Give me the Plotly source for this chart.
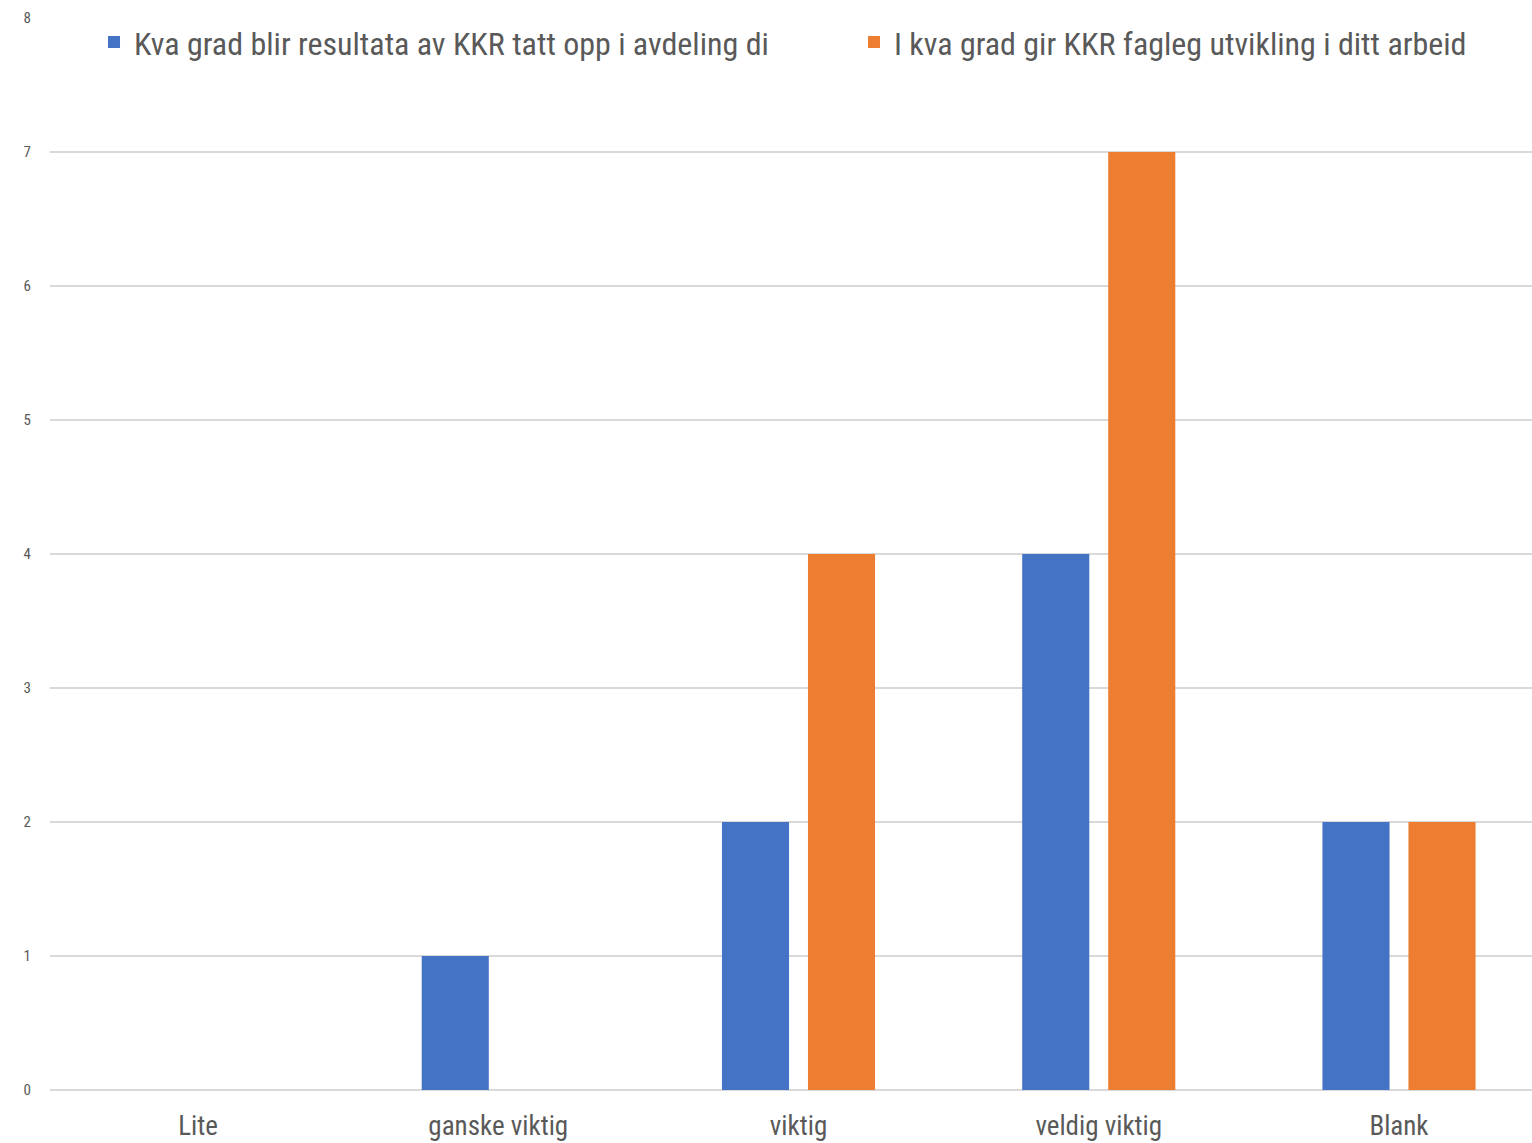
import plotly.graph_objects as go

categories = ["Lite", "ganske viktig", "viktig", "veldig viktig", "Blank"]
series_names = [
    "Kva grad blir resultata av KKR tatt opp i avdeling di",
    "I kva grad gir KKR fagleg utvikling i ditt arbeid",
]
series_a = [0, 1, 2, 4, 2]
series_b = [0, 0, 4, 7, 2]
y_ticks = [0, 1, 2, 3, 4, 5, 6, 7, 8]

FONT = "Roboto Condensed, Liberation Sans Narrow, Roboto, sans-serif"
TEXT = "#595959"

fig = go.Figure()
fig.add_trace(go.Bar(x=categories, y=series_a, name=series_names[0], legend="legend",
                     showlegend=True,
                     marker=dict(color="#4472C4", line=dict(width=0))))
fig.add_trace(go.Bar(x=categories, y=series_b, name=series_names[1], legend="legend2",
                     showlegend=True,
                     marker=dict(color="#ED7D31", line=dict(width=0))))

legend_common = dict(orientation="h", y=1.003, xanchor="left", yanchor="top",
                     font=dict(size=32, color=TEXT, family=FONT),
                     bgcolor="rgba(0,0,0,0)")

fig.update_layout(
    width=1532, height=1143,
    margin=dict(l=50, r=0, t=18, b=53),
    paper_bgcolor="white", plot_bgcolor="white",
    showlegend=True,
    barmode="group", bargap=0.427, bargroupgap=0.22,
    font=dict(family=FONT, color=TEXT),
    legend=dict(x=0.0297, **legend_common),
    legend2=dict(x=0.5425, **legend_common),
    xaxis=dict(showgrid=False, showline=False, ticks="", range=[-0.493, 4.443],
               tickfont=dict(size=27, color=TEXT), ticklabelstandoff=17),
    yaxis=dict(range=[0, 8], tickvals=y_ticks, showgrid=True, gridcolor="#d9d9d9",
               gridwidth=1.5, zeroline=True, zerolinecolor="#d9d9d9", zerolinewidth=1.5,
               showline=False, ticks="", tickfont=dict(size=15, color=TEXT),
               ticklabelstandoff=18),
)

fig.write_html("out.html")
